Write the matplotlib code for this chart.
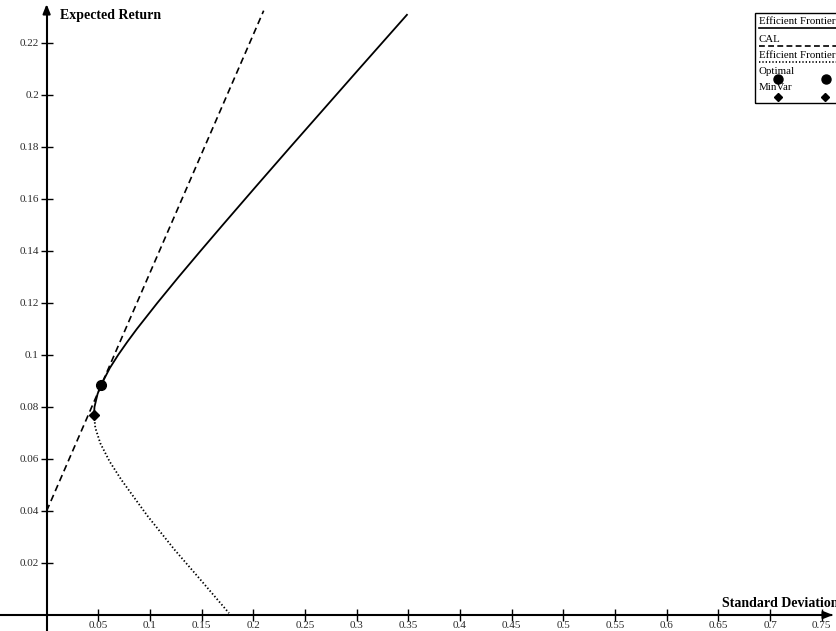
import matplotlib.pyplot as plt
from matplotlib.lines import Line2D

plt.rcParams['font.family'] = ['Liberation Serif', 'DejaVu Serif']

# efficient frontier, upper (solid) branch
upper_sigma = [0.0459, 0.0463, 0.0493, 0.0527, 0.0612, 0.0692, 0.0780, 0.0873, 0.1071, 0.1277,
               0.1489, 0.1704, 0.2030, 0.2359, 0.2691, 0.3023, 0.3486]
upper_return = [0.0769, 0.0800, 0.0850, 0.0885, 0.0950, 0.1000, 0.1050, 0.1100, 0.1200, 0.1300,
                0.1400, 0.1500, 0.1650, 0.1800, 0.1950, 0.2100, 0.2308]

# lower (dotted) branch
lower_sigma = [0.0459, 0.0471, 0.0520, 0.0610, 0.0723, 0.0850, 0.0978, 0.1240, 0.1490, 0.1765]
lower_return = [0.0769, 0.0720, 0.0660, 0.0590, 0.0520, 0.0450, 0.0380, 0.0250, 0.0135, 0.0007]

# capital allocation line
cal_sigma = [0.0, 0.2100]
cal_return = [0.040, 0.2324]

opt_sigma, opt_return = 0.0527, 0.0885
mv_sigma, mv_return = 0.0459, 0.0769

xticks = [0.05, 0.1, 0.15, 0.2, 0.25, 0.3, 0.35, 0.4, 0.45, 0.5, 0.55, 0.6, 0.65, 0.7, 0.75]
yticks = [0.02, 0.04, 0.06, 0.08, 0.1, 0.12, 0.14, 0.16, 0.18, 0.2, 0.22]

W, H = 837, 631
fig = plt.figure(figsize=(W / 100, H / 100), dpi=100)
ax = fig.add_axes([0, 0, 1, 1])
ax.set_xlim(-0.0451, 0.7647)
ax.set_ylim(-0.00615, 0.2365)

ax.plot(upper_sigma, upper_return, color='black', lw=1.3)
ax.plot(lower_sigma, lower_return, color='black', lw=1.3, linestyle=(0, (0.8, 1.2)))
ax.plot(cal_sigma, cal_return, color='black', lw=1.2, linestyle=(0, (4, 2.5)))
ax.plot(opt_sigma, opt_return, 'o', color='black', ms=7)
ax.plot(mv_sigma, mv_return, 'D', color='black', ms=5)

# axes through the origin with arrow heads
for s in ['top', 'right']:
    ax.spines[s].set_visible(False)
ax.spines['left'].set_position(('data', 0))
ax.spines['bottom'].set_position(('data', 0))
ax.spines['left'].set_linewidth(1.5)
ax.spines['bottom'].set_linewidth(1.5)
ax.spines['left'].set_bounds(-0.01, 0.2320)
ax.spines['bottom'].set_bounds(-0.05, 0.7580)
ax.annotate('', xy=(0, 0.2360), xytext=(0, 0.2310),
            arrowprops=dict(arrowstyle='-|>,head_length=0.55,head_width=0.22', color='black', lw=1.5))
ax.annotate('', xy=(0.7635, 0), xytext=(0.7560, 0), annotation_clip=False,
            arrowprops=dict(arrowstyle='-|>,head_length=0.55,head_width=0.22', color='black', lw=1.5))

ax.set_xticks(xticks)
ax.set_xticklabels([f'{t:g}' for t in xticks])
ax.set_yticks(yticks)
ax.set_yticklabels([f'{t:g}' for t in yticks])
ax.tick_params(direction='inout', length=9, width=1, labelsize=8, colors='black', labelcolor='#2a2a2a')
ax.tick_params(axis='x', pad=-0.5)
ax.tick_params(axis='y', pad=1)

ax.text(0.0125, 0.2305, 'Expected Return', fontsize=10, fontweight='bold', va='center', ha='left')
ax.text(0.7660, 0.0046, 'Standard Deviation', fontsize=10, fontweight='bold', va='center', ha='right')

# legend box drawn in pixel positions
def fx(px):
    return px / W


def fy(py):
    return 1 - py / H


tr = fig.transFigure
fig.patches.append(plt.Rectangle((fx(755), fy(103)), fx(100), fy(13) - fy(103), transform=tr,
                                 fill=False, edgecolor='black', lw=1.0))
entries = [('Efficient Frontier', 21, 28, '-'),
           ('CAL', 39, 46, (0, (3.5, 2))),
           ('Efficient Frontier', 56, 62, (0, (0.8, 1.2)))]
for label, ty, ly, style in entries:
    fig.text(fx(759), fy(ty), label, fontsize=7.8, va='center', ha='left')
    fig.lines.append(Line2D([fx(759), fx(840)], [fy(ly), fy(ly)], transform=tr,
                            color='black', lw=1.2, linestyle=style))
fig.text(fx(759), fy(72), 'Optimal', fontsize=7.8, va='center', ha='left')
fig.lines.append(Line2D([fx(778), fx(826)], [fy(79), fy(79)], transform=tr,
                        color='black', marker='o', ms=6.5, lw=0))
fig.text(fx(759), fy(88), 'MinVar', fontsize=7.8, va='center', ha='left')
fig.lines.append(Line2D([fx(778), fx(825)], [fy(96.5), fy(96.5)], transform=tr,
                        color='black', marker='D', ms=4.5, lw=0))

fig.savefig('out.png', dpi=100)
